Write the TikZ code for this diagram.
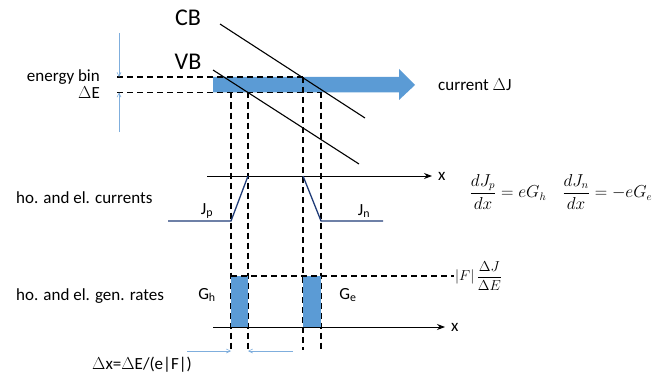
\documentclass[tikz,border=0pt]{standalone}
\usepackage{fontspec}
\setmainfont{Carlito}
\usetikzlibrary{arrows.meta,positioning}
\definecolor{BinBlue}{HTML}{5B9BD5}
\definecolor{CurNavy}{HTML}{203C78}
\definecolor{TickBlue}{HTML}{7FAEDD}
\tikzset{
  lbl/.style={font=\fontsize{17}{19}\selectfont,inner sep=0pt},
  bandlbl/.style={font=\fontsize{24}{26}\selectfont,inner sep=0pt},
  bandline/.style={line width=1.1pt},
  bindash/.style={line width=1.1pt,dash pattern=on 6pt off 4pt},
  xaxis/.style={line width=1pt,-{Stealth[length=8pt,width=6pt]}},
  tickarrow/.style={TickBlue,line width=0.6pt,-{Straight Barb[length=4pt,width=4pt]}},
  curline/.style={CurNavy,line width=1.3pt},
  genbar/.style={fill=BinBlue,draw=none}
}

\begin{document}
\begin{tikzpicture}[x=1pt,y=-1pt]
\useasboundingbox (0,0) rectangle (668,377);
% energy bin and current arrow
\fill[BinBlue] (213,77)--(399,77)--(399,69)--(415,85)--(399,100)--(399,92.5)--(213,92.5)--cycle;
\coordinate (binT) at (117,77);
\coordinate (binB) at (117,92.5);
\coordinate (crT) at (303,77);
\coordinate (crB) at (321,92.5);
\coordinate (vbT) at (231,92.5);
\coordinate (vbB) at (248,92.5);
\draw[bindash] (binT)--(crT);
\draw[bindash] (binB)--(crB);
\draw[bindash] (vbT)--(231,350);
\draw[bindash] (vbB)--(248,350);
\draw[bindash] (crT)--(303,350);
\draw[bindash] (crB)--(321,350);
% bands
\draw[bandline] (220,24)--(365,118);
\draw[bandline] (213,70)--(359,164);
\node[bandlbl] (cb) at (188,18) {CB};
\node[bandlbl] (vb) at (188,62) {VB};
\node[lbl,anchor=east] (ebin) at (100,77) {energy bin};
\node[lbl,anchor=east] (de) at (100,92.5) {$\Delta$E};
\node[lbl,anchor=west] (cur) at (438,85) {current $\Delta$J};
\coordinate (tkA) at (119,33);
\coordinate (tkB) at (119,132);
\draw[tickarrow] (tkA)--(119,77);
\draw[tickarrow] (tkB)--(119,92.5);
% currents
\coordinate (ax1) at (207,176);
\coordinate (ax1e) at (432,176);
\draw[xaxis] (ax1)--(ax1e);
\node[lbl,right=6pt of ax1e] (x1) {x};
\node[lbl,anchor=west] (curr) at (16,198) {ho. and el. currents};
\draw[curline] (168,221)--(231,221)--(248,176);
\draw[curline] (303,176)--(321,221)--(383,221);
\node[lbl] (jp) at (207,211) {J\textsubscript{p}};
\node[lbl] (jn) at (364,211) {J\textsubscript{n}};
\node[font=\fontsize{16}{18}\selectfont] (eq) at (561,192) {$\displaystyle\frac{dJ_p}{dx}=eG_h\quad\frac{dJ_n}{dx}=-eG_e$};
% generation rates
\fill[genbar] (231,276) rectangle (248,327);
\fill[genbar] (303,276) rectangle (321,327);
\coordinate (gtop) at (231,276);
\coordinate (gend) at (454,276);
\draw[bindash] (gtop)--(gend);
\node[font=\fontsize{15}{17}\selectfont,anchor=west,inner sep=1pt] (fj) at (gend) {$\displaystyle|F|\,\frac{\Delta J}{\Delta E}$};
\coordinate (ax2) at (213,327);
\coordinate (ax2e) at (445,327);
\draw[xaxis] (ax2)--(ax2e);
\node[lbl,right=6pt of ax2e] (x2) {x};
\node[lbl,anchor=west] (gen) at (16,296) {ho. and el. gen. rates};
\node[lbl] (gh) at (207,295) {G\textsubscript{h}};
\node[lbl] (ge) at (348,295) {G\textsubscript{e}};
% width of the slab
\coordinate (dxL) at (187,351);
\coordinate (dxR) at (293,351);
\draw[tickarrow] (dxL)--(231,351);
\draw[tickarrow] (dxR)--(248,351);
\node[lbl] (dx) at (142,365) {$\Delta$x=$\Delta$E/(e|F|)};
\end{tikzpicture}
\end{document}
